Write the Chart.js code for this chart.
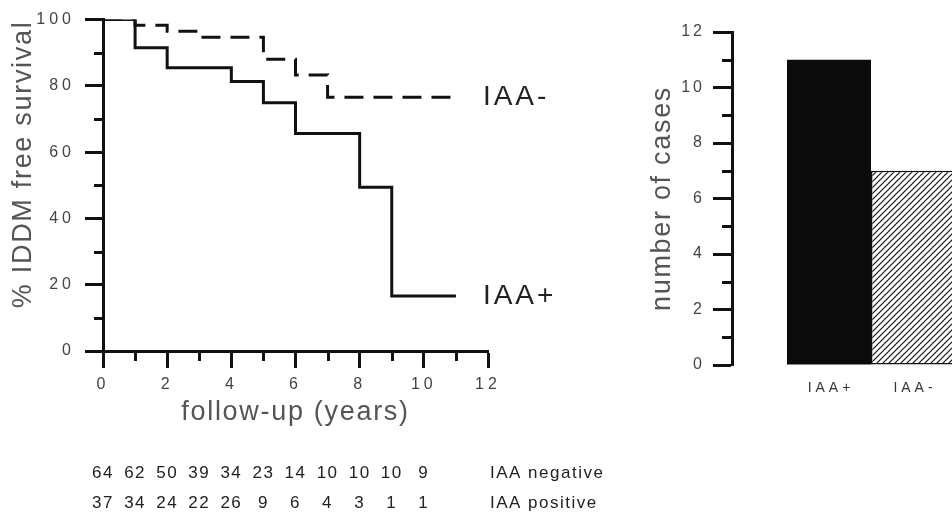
<!DOCTYPE html>
<html>
<head>
<meta charset="utf-8">
<script src="https://cdn.jsdelivr.net/npm/chart.js@4.4.1/dist/chart.umd.min.js"></script>
<style>
  html, body { margin: 0; padding: 0; background: #fff; overflow: hidden; }
  body { width: 952px; height: 524px; position: relative; }
  .panel { position: absolute; top: 0; height: 524px; }
  #survival-box { left: 0; width: 620px; }
  #cases-box { left: 640px; width: 370px; }
</style>
</head>
<body>
<div class="panel" id="survival-box"><canvas id="survival"></canvas></div>
<div class="panel" id="cases-box"><canvas id="cases"></canvas></div>
<script>
// ── Data ──────────────────────────────────────────────────────────────────
// Kaplan-Meier steps, IAA negative (dashed) and IAA positive (solid)
var negYears    = [0, 1, 2, 3, 5, 6, 7, 11];
var negSurvival = [100, 98.3, 96.5, 94.7, 88.0, 83.3, 76.6, 76.6];
var posYears    = [0, 1, 2, 4, 5, 6, 8, 9, 11];
var posSurvival = [100, 91.5, 85.5, 81.3, 74.9, 65.6, 49.4, 16.6, 16.6];

// numbers at risk under the x axis
var riskYears    = [0, 1, 2, 3, 4, 5, 6, 7, 8, 9, 10];
var riskNegative = ['64', '62', '50', '39', '34', '23', '14', '10', '10', '10', '9'];
var riskPositive = ['37', '34', '24', '22', '26', '9', '6', '4', '3', '1', '1'];

var yearTicks     = [0, 2, 4, 6, 8, 10, 12];
var survivalTicks = [0, 20, 40, 60, 80, 100];

// bar panel
var groups    = ['IAA+', 'IAA-'];
var cases     = [11, 7];
var caseTicks = [0, 2, 4, 6, 8, 10, 12];

// ── Helpers ───────────────────────────────────────────────────────────────
var FAMILY = "'Liberation Sans', Arial, Helvetica, sans-serif";
var INK    = '#111';

function drawText( ctx, str, x, y, o ) {
	ctx.save();
	ctx.font          = ( o.size || 16 ) + 'px ' + FAMILY;
	ctx.letterSpacing = ( o.spacing || 0 ) + 'px';
	ctx.fillStyle     = o.color || '#333';
	ctx.textAlign     = o.align || 'left';
	ctx.textBaseline  = 'middle';
	ctx.translate( x, y );
	if ( o.rotate ) { ctx.rotate( o.rotate ); }
	ctx.fillText( str, 0, 0 );
	ctx.restore();
}

function tickLine( ctx, x1, y1, x2, y2 ) {
	ctx.beginPath();
	ctx.moveTo( x1, y1 );
	ctx.lineTo( x2, y2 );
	ctx.stroke();
}

// minor ticks halfway between the labelled ones
function minorValues( ticks ) {
	var out = [];
	for ( var i = 1; i < ticks.length; i++ ) { out.push( ( ticks[ i - 1 ] + ticks[ i ] ) / 2 ); }
	return out;
}

function setTicks( list ) {
	return function ( scale ) {
		scale.ticks = list.map( function ( v ) { return { value: v }; } );
	};
}

function toPoints( xs, ys ) {
	return xs.map( function ( x, i ) { return { x: x, y: ys[ i ] }; } );
}

Chart.defaults.font.family = FAMILY;

// ── Survival panel ────────────────────────────────────────────────────────
var survivalDecor = {
	id: 'survivalDecor',
	beforeDraw: function ( chart ) {
		chart.ctx.letterSpacing = '4px';
	},
	afterDraw: function ( chart ) {
		var ctx  = chart.ctx;
		var xs   = chart.scales.x;
		var ys   = chart.scales.y;
		var area = chart.chartArea;

		ctx.save();
		ctx.strokeStyle = INK;
		ctx.lineWidth   = 3;
		minorValues( yearTicks ).forEach( function ( v ) {
			var px = Math.round( xs.getPixelForValue( v ) ) + 0.5;
			tickLine( ctx, px, area.bottom, px, area.bottom + 10 );
		} );
		minorValues( survivalTicks ).forEach( function ( v ) {
			var py = Math.round( ys.getPixelForValue( v ) ) + 0.5;
			tickLine( ctx, area.left - 9, py, area.left, py );
		} );
		ctx.restore();

		// curve labels at the end of each step line
		chart.data.datasets.forEach( function ( ds, i ) {
			var pts  = chart.getDatasetMeta( i ).data;
			var last = pts[ pts.length - 1 ];
			drawText( ctx, ds.label, last.x + 27, last.y, { size: 28, spacing: 3, color: '#222' } );
		} );

		// axis titles
		drawText( ctx, '% IDDM free survival', 24, area.top + 1, {
			size: 27, spacing: 1.7, color: '#555', align: 'right', rotate: -Math.PI / 2
		} );
		drawText( ctx, 'follow-up (years)', ( area.left + area.right ) / 2, 413, {
			size: 27, spacing: 1.7, color: '#555', align: 'center'
		} );

		// numbers at risk
		var labelX = xs.getPixelForValue( 12 ) + 2;
		riskYears.forEach( function ( yr, i ) {
			var px = xs.getPixelForValue( yr );
			drawText( ctx, riskNegative[ i ], px, 473, { size: 17, spacing: 1.5, color: '#222', align: 'center' } );
			drawText( ctx, riskPositive[ i ], px, 503, { size: 17, spacing: 1.5, color: '#222', align: 'center' } );
		} );
		drawText( ctx, 'IAA negative', labelX, 473, { size: 17, spacing: 1.5, color: '#222' } );
		drawText( ctx, 'IAA positive', labelX, 503, { size: 17, spacing: 1.5, color: '#222' } );
	}
};

new Chart( document.getElementById( 'survival' ), {
	type: 'line',
	data: {
		datasets: [
			{
				label: 'IAA-',
				data: toPoints( negYears, negSurvival ),
				borderColor: INK,
				borderWidth: 3,
				borderDash: [ 19, 10 ],
				borderCapStyle: 'butt',
				borderJoinStyle: 'miter',
				stepped: true,
				pointRadius: 0,
				fill: false
			},
			{
				label: 'IAA+',
				data: toPoints( posYears, posSurvival ),
				borderColor: INK,
				borderWidth: 3,
				borderCapStyle: 'butt',
				borderJoinStyle: 'miter',
				stepped: true,
				pointRadius: 0,
				fill: false
			}
		]
	},
	options: {
		responsive: true,
		maintainAspectRatio: false,
		animation: false,
		events: [],
		layout: { padding: { top: 18, right: 132, bottom: 0, left: 0 } },
		plugins: { legend: { display: false }, tooltip: { enabled: false } },
		scales: {
			x: {
				type: 'linear',
				min: 0,
				max: 12,
				afterBuildTicks: setTicks( yearTicks ),
				afterFit: function ( s ) { s.height = 173; },
				grid: { drawOnChartArea: false, tickLength: 17, tickWidth: 3, tickColor: INK },
				border: { color: INK, width: 3 },
				ticks: { color: '#444', font: { size: 16 }, padding: 7, maxRotation: 0, autoSkip: false }
			},
			y: {
				min: 0,
				max: 100,
				afterBuildTicks: setTicks( survivalTicks ),
				afterFit: function ( s ) { s.width = 103; },
				grid: { drawOnChartArea: false, tickLength: 18, tickWidth: 3, tickColor: INK },
				border: { color: INK, width: 3 },
				ticks: { color: '#444', font: { size: 16 }, padding: 10 }
			}
		}
	},
	plugins: [ survivalDecor ]
} );

// ── Cases panel ───────────────────────────────────────────────────────────
function makeHatch( ctx ) {
	var c = document.createElement( 'canvas' );
	c.width  = 6;
	c.height = 6;
	var g = c.getContext( '2d' );
	g.fillStyle = '#fff';
	g.fillRect( 0, 0, 6, 6 );
	g.strokeStyle = INK;
	g.lineWidth   = 1.2;
	g.beginPath();
	g.moveTo( 0, 6 );  g.lineTo( 6, 0 );
	g.moveTo( -1, 1 ); g.lineTo( 1, -1 );
	g.moveTo( 5, 7 );  g.lineTo( 7, 5 );
	g.stroke();
	return ctx.createPattern( c, 'repeat' );
}

var casesCanvas = document.getElementById( 'cases' );
var hatch       = makeHatch( casesCanvas.getContext( '2d' ) );

var casesDecor = {
	id: 'casesDecor',
	beforeDraw: function ( chart ) {
		chart.ctx.letterSpacing = '3px';
	},
	afterDraw: function ( chart ) {
		var ctx  = chart.ctx;
		var ys   = chart.scales.y;
		var area = chart.chartArea;

		ctx.save();
		ctx.strokeStyle = INK;
		ctx.lineWidth   = 3;
		minorValues( caseTicks ).forEach( function ( v ) {
			var py = Math.round( ys.getPixelForValue( v ) ) + 0.5;
			tickLine( ctx, area.left - 10, py, area.left, py );
		} );
		ctx.restore();

		chart.data.datasets.forEach( function ( ds, i ) {
			var bar = chart.getDatasetMeta( i ).data[ 0 ];
			drawText( ctx, ds.label, bar.x + 2, 388, { size: 14, spacing: 4, color: '#333', align: 'center' } );
		} );

		drawText( ctx, 'number of cases', 23, ( area.top + area.bottom ) / 2, {
			size: 27, spacing: 1.7, color: '#555', align: 'center', rotate: -Math.PI / 2
		} );
	}
};

new Chart( casesCanvas, {
	type: 'bar',
	data: {
		labels: [ '' ],
		datasets: groups.map( function ( g, i ) {
			return {
				label: g,
				data: [ cases[ i ] ],
				backgroundColor: i === 0 ? '#0b0b0b' : hatch,
				borderColor: INK,
				borderWidth: i === 0 ? 0 : 1.5,
				borderSkipped: false,
				barPercentage: 1,
				categoryPercentage: 168 / 278
			};
		} )
	},
	options: {
		responsive: true,
		maintainAspectRatio: false,
		animation: false,
		events: [],
		layout: { padding: { top: 32, right: 0, bottom: 159, left: 0 } },
		plugins: { legend: { display: false }, tooltip: { enabled: false } },
		scales: {
			x: { display: false },
			y: {
				min: 0,
				max: 12,
				afterBuildTicks: setTicks( caseTicks ),
				afterFit: function ( s ) { s.width = 92; },
				grid: { drawOnChartArea: false, tickLength: 19, tickWidth: 3, tickColor: INK },
				border: { color: INK, width: 3 },
				ticks: { color: '#444', font: { size: 16 }, padding: 8 }
			}
		}
	},
	plugins: [ casesDecor ]
} );
</script>
</body>
</html>
